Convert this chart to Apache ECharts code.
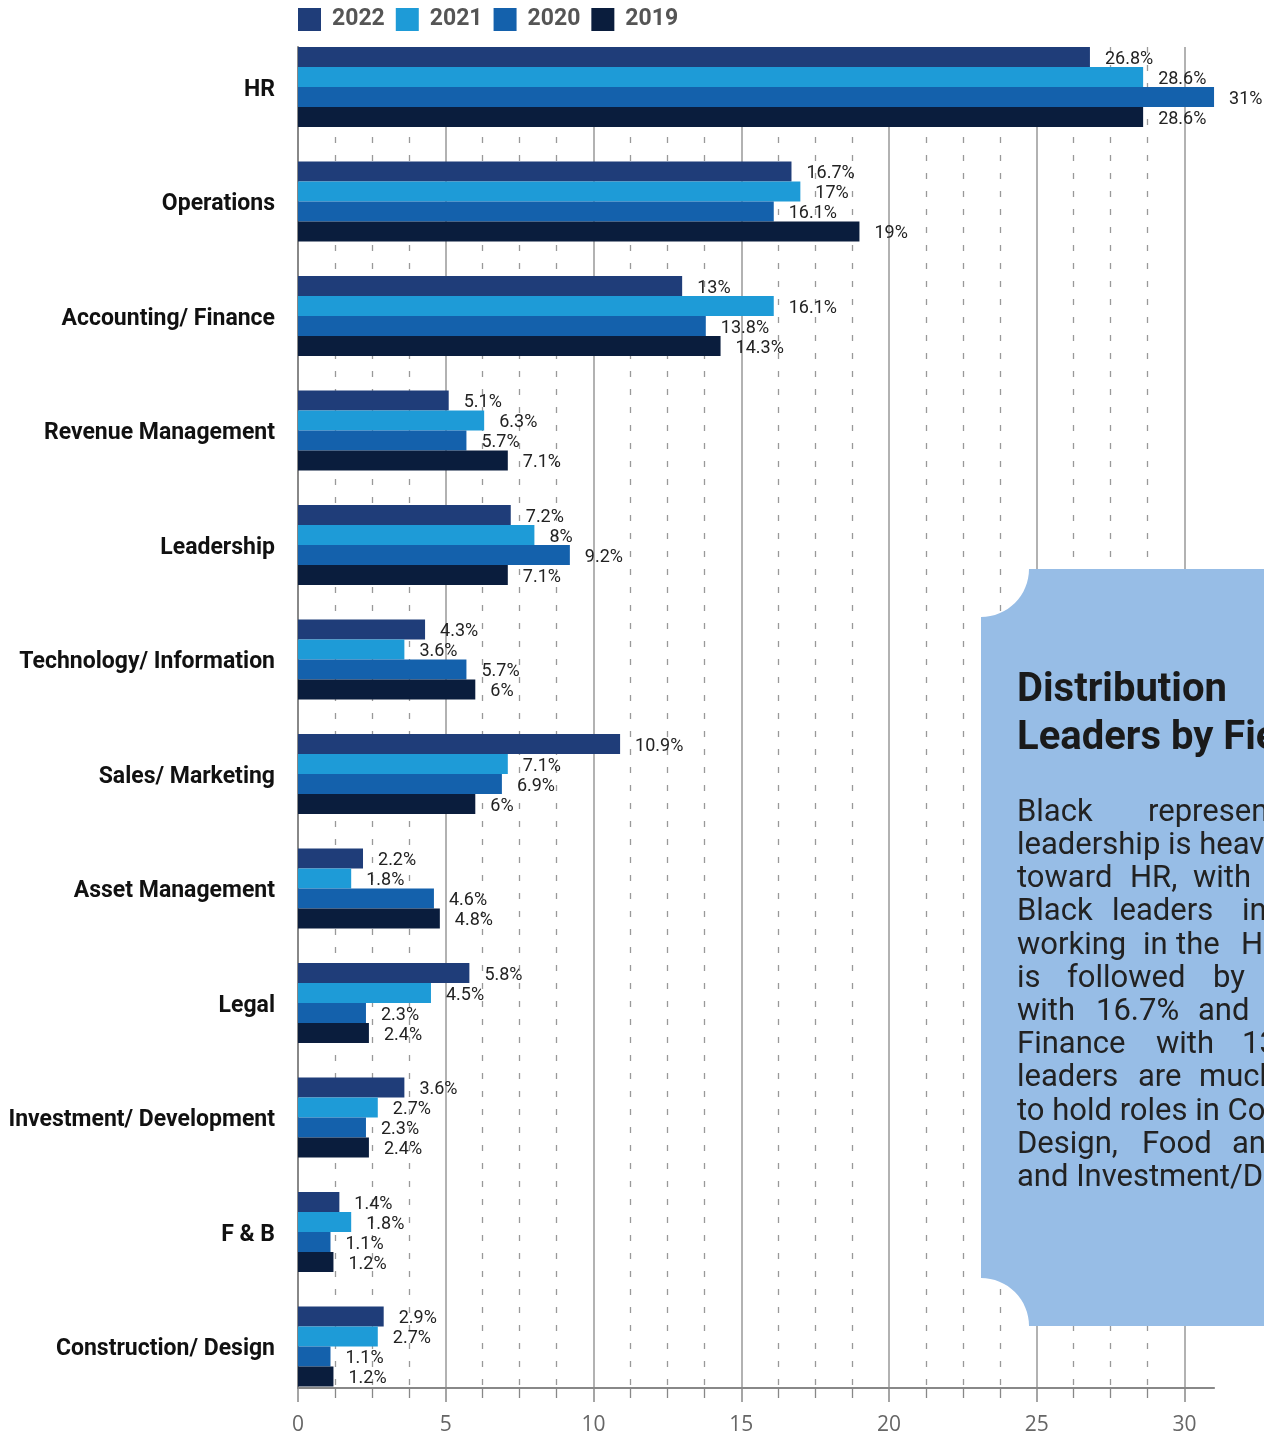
<!DOCTYPE html>
<html><head><meta charset="utf-8">
<script src="https://cdn.jsdelivr.net/npm/echarts@6/dist/echarts.min.js"></script>
<style>html,body{margin:0;padding:0;background:#fff;overflow:hidden;} #c{width:1264px;height:1436px;}</style>
</head><body><div id="c"></div>
<script>
const categories = ['HR','Operations','Accounting/ Finance','Revenue Management','Leadership','Technology/ Information','Sales/ Marketing','Asset Management','Legal','Investment/ Development','F & B','Construction/ Design'];
const seriesNames = ['2022','2021','2020','2019'];
const v2022 = [26.8, 16.7, 13, 5.1, 7.2, 4.3, 10.9, 2.2, 5.8, 3.6, 1.4, 2.9];
const v2021 = [28.6, 17, 16.1, 6.3, 8, 3.6, 7.1, 1.8, 4.5, 2.7, 1.8, 2.7];
const v2020 = [31, 16.1, 13.8, 5.7, 9.2, 5.7, 6.9, 4.6, 2.3, 2.3, 1.1, 1.1];
const v2019 = [28.6, 19, 14.3, 7.1, 7.1, 6, 6, 4.8, 2.4, 2.4, 1.2, 1.2];
const xTicks = [0, 5, 10, 15, 20, 25, 30];

const colors = ['#1f3d79', '#1e9bd7', '#1461ac', '#0a1d3d'];
const values = [v2022, v2021, v2020, v2019];

const chart = echarts.init(document.getElementById('c'), null, {renderer: 'canvas'});

const K = 29.55; // px per unit
const L = 298;
const gridBarsTop = 29.75, gridBarsH = 1374;
const axisY = 1388;

// callout box outline with concave left corners
const boxPts = [];
const R = 48, bx = 981, by0 = 569, by1 = 1326;
for (let i = 0; i <= 16; i++) { const a = Math.PI / 2 - (Math.PI / 2) * i / 16; boxPts.push([bx + R * Math.cos(a), by0 + R * Math.sin(a)]); }
boxPts.push([1300, by0], [1300, by1]);
for (let i = 0; i <= 16; i++) { const a = -(Math.PI / 2) * i / 16; boxPts.push([bx + R * Math.cos(a), by1 + R * Math.sin(a)]); }

const bodyFont = '31px Roboto';
const words = [
  [['Black',1017],['representation',1148]],
  [['leadership is heavily',1017]],
  [['toward',1017],['HR,',1130],['with',1193]],
  [['Black',1017],['leaders',1112],['in',1242]],
  [['working',1017],['in',1143],['the',1176],['HR',1241]],
  [['is',1017],['followed',1067],['by',1213]],
  [['with',1017],['16.7%',1096],['and',1198]],
  [['Finance',1017],['with',1156],['13%',1242]],
  [['leaders',1017],['are',1138],['much',1199]],
  [['to hold roles in Construction/',1017]],
  [['Design,',1017],['Food',1142],['and',1232]],
  [['and Investment/Development.',1017]]
];
const graphics = [{
  type: 'polygon', z: 100,
  shape: {points: boxPts},
  style: {fill: '#97bde6'}
}, {
  type: 'text', z: 101, x: 1017, y: 691,
  style: {text: 'Distribution', font: 'bold 40px Roboto', fill: '#1a1a1a', verticalAlign: 'middle'}
}, {
  type: 'text', z: 101, x: 1017, y: 739,
  style: {text: 'Leaders by Field', font: 'bold 40px Roboto', fill: '#1a1a1a', verticalAlign: 'middle'}
}];
words.forEach((line, i) => {
  line.forEach(([w, x]) => {
    graphics.push({type: 'text', z: 101, x: x, y: 813 + 33.2 * i,
      style: {text: w, font: bodyFont, fill: '#222', verticalAlign: 'middle'}});
  });
});

const option = {
  animation: false,
  backgroundColor: '#fff',
  legend: {
    left: 298, top: 8, padding: 0, itemWidth: 23, itemHeight: 23, itemGap: 11,
    icon: 'rect',
    data: seriesNames,
    textStyle: {fontFamily: 'Roboto', fontWeight: 'bold', fontSize: 23, color: '#555', padding: [0,0,0,6]}
  },
  grid: [
    {left: L, top: gridBarsTop, width: 31 * K, height: gridBarsH},
    {left: L, top: 47, width: 30 * K, height: axisY - 47}
  ],
  xAxis: [{
    gridIndex: 0, type: 'value', min: 0, max: 31,
    offset: -(gridBarsTop + gridBarsH - axisY),
    axisLine: {show: true, lineStyle: {color: '#888', width: 2}},
    axisTick: {show: false}, axisLabel: {show: false}, splitLine: {show: false}
  }, {
    gridIndex: 1, type: 'value', min: 0, max: 30, interval: 5,
    axisLine: {show: true, lineStyle: {color: '#888', width: 2}},
    axisTick: {show: true, length: 14, lineStyle: {color: '#888', width: 1.5}},
    minorTick: {show: true, splitNumber: 4, length: 10, lineStyle: {color: '#888', width: 1.3}},
    splitLine: {show: true, lineStyle: {color: '#999', width: 1.5}},
    minorSplitLine: {show: true, lineStyle: {color: '#999', width: 1.3, type: [6, 12]}},
    axisLabel: {show: true, margin: 27, fontFamily: 'Open Sans', fontSize: 21, color: '#666',
      formatter: function (v) { return xTicks.indexOf(v) >= 0 ? String(v) : ''; }}
  }],
  yAxis: [{
    gridIndex: 0, type: 'category', data: categories, inverse: true,
    axisLine: {show: false}, axisTick: {show: false}, splitLine: {show: false},
    axisLabel: {margin: 23, fontFamily: 'Roboto', fontWeight: 'bold', fontSize: 23, color: '#111',
      verticalAlign: 'top', lineHeight: 6}
  }, {
    gridIndex: 1, type: 'value', min: 0, max: 1,
    axisLine: {show: true, lineStyle: {color: '#888', width: 2}},
    axisTick: {show: false}, axisLabel: {show: false}, splitLine: {show: false}
  }],
  series: seriesNames.map((n, i) => ({
    name: n, type: 'bar', xAxisIndex: 0, yAxisIndex: 0,
    data: values[i], barWidth: 20, barGap: '0%',
    itemStyle: {color: colors[i]},
    label: {show: true, position: 'right', distance: 15, offset: [0, 2], formatter: '{c}%',
      fontFamily: 'Roboto', fontSize: 18, color: '#222'},
    z: 3
  })),
  graphic: graphics
};
chart.setOption(option);
</script>
</body></html>
